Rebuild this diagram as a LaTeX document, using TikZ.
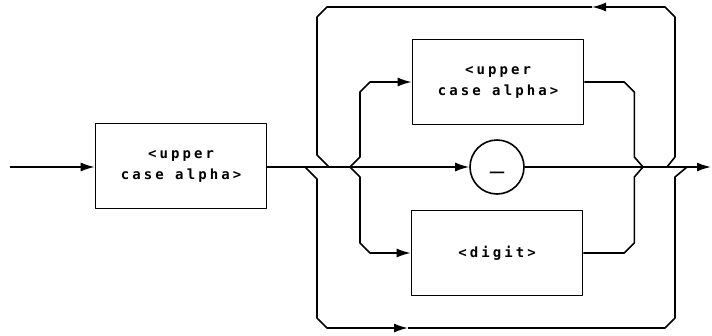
\documentclass[tikz,border=0pt]{standalone}
\usepackage{fontspec}
\newfontfamily\plotfont[LetterSpace=22]{DejaVu Sans Mono Bold}
\newfontfamily\dashfont{DejaVu Sans Mono}
\usetikzlibrary{arrows.meta}

\begin{document}
\begin{tikzpicture}[x=1pt, y=-1pt, >={Latex[length=14pt,width=9pt]}, line width=1.6pt, line join=round,
  every node/.style={font=\plotfont\fontsize{14}{21}\selectfont},
  box/.style={draw, align=center, minimum width=171pt, minimum height=85pt, inner sep=0pt},
  dot/.style={draw, circle, minimum size=54pt, inner sep=0pt}]
\useasboundingbox (0,0) rectangle (712,335);
\node[box] (alpha) at (181,166) {<upper\\case alpha>};
\node[box] (upper) at (498,82) {<upper\\case alpha>};
\node[dot, font=\dashfont\fontsize{24}{24}\selectfont, text height=24pt, text depth=0pt] (minus) at (497,167) {–};
\node[box] (digit) at (497,253) {<digit>};
% junctions on the main line
\coordinate (start) at (10,167);
\coordinate (end) at (711,167);
\coordinate (skip) at (305,167);
\coordinate (merge) at (329,167);
\coordinate (fork) at (350,167);
\coordinate (join) at (643,167);
\coordinate (back) at (667,167);
\coordinate (rejoin) at (687,167);
\coordinate (ret) at (592,7);
\coordinate (pass) at (408,328);
\draw[->] (start) -- (alpha.west |- start);
\draw[->] (alpha.east |- start) -- (minus.west);
\draw[->] (minus.east) -- (end);
% branches
\draw[->] (fork) -- ++(10,-10) -- ++(0,-65) -- ++(10,-10) -- (upper.west);
\draw (upper.east) -- ++(40,0) -- ++(10,10) -- ++(0,65) -- (join);
\draw[->] (fork) -- ++(10,10) -- ++(0,66) -- ++(10,10) -- (digit.west);
\draw (digit.east) -- ++(41,0) -- ++(10,-10) -- ++(0,-66) -- (join);
% loop back
\draw[->] (back) -- ++(8,-10) -- ++(0,-140) -- ++(-10,-10) -- (ret);
\draw (ret) -- ++(-265,0) -- ++(-10,10) -- ++(0,138) -- (merge);
% bypass
\draw[->] (skip) -- ++(12,12) -- ++(0,139) -- ++(10,10) -- (pass);
\draw (pass) -- ++(257,0) -- ++(10,-10) -- ++(0,-141) -- (rejoin);
\end{tikzpicture}
\end{document}
